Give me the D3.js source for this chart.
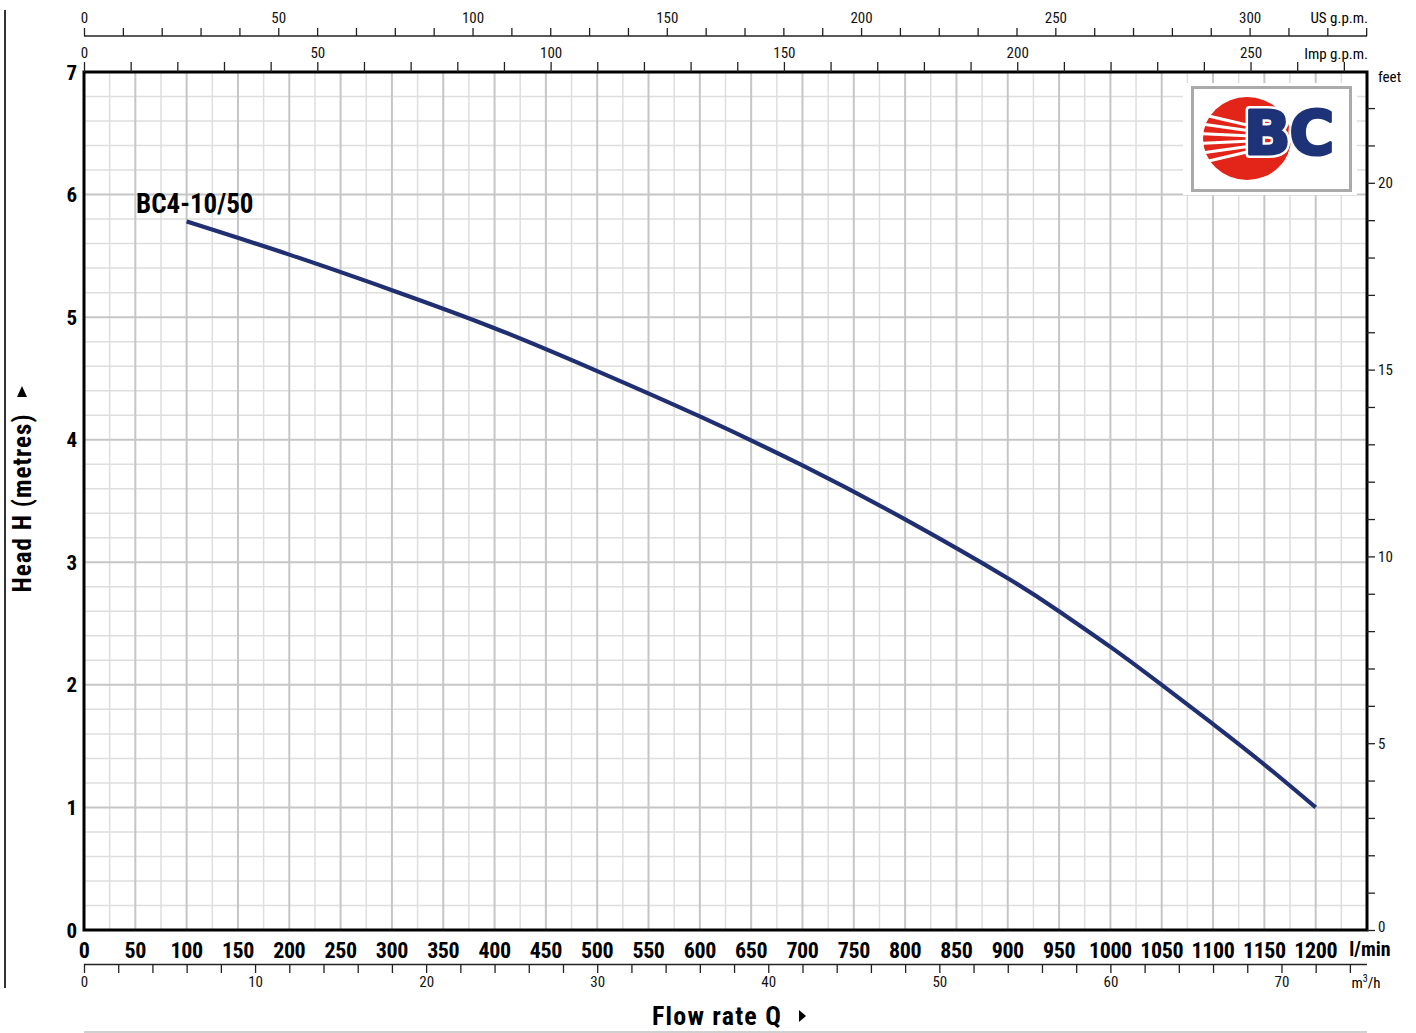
<!DOCTYPE html>
<html><head><meta charset="utf-8">
<script src="https://cdn.jsdelivr.net/npm/d3@7"></script>
<style>
html,body{margin:0;padding:0;background:#fff;}
svg{display:block;}
</style></head>
<body>
<svg id="chart" width="1416" height="1033"></svg>
<script>
// ---- data ----
const flowLpm = [100, 200, 300, 400, 500, 600, 700, 800, 900, 950, 1000, 1050, 1100, 1150, 1200];
const headM   = [5.78, 5.51, 5.22, 4.91, 4.56, 4.19, 3.79, 3.35, 2.87, 2.60, 2.31, 2.00, 1.68, 1.35, 1.00];
const curveName = "BC4-10/50";
const lpmTicks = [0,50,100,150,200,250,300,350,400,450,500,550,600,650,700,750,800,850,900,950,1000,1050,1100,1150,1200];
const headTicks = [0,1,2,3,4,5,6,7];
const feetLabels = [0,5,10,15,20];
const usLabels = [0,50,100,150,200,250,300];
const impLabels = [0,50,100,150,200,250];
const m3hLabels = [0,10,20,30,40,50,60,70];

const FONT = "'Liberation Sans Narrow','Roboto Condensed','DejaVu Sans Condensed','Open Sans',sans-serif";
const svg = d3.select("#chart");

const L = 84, R = 1367, T = 72, B = 930;
const x = d3.scaleLinear().domain([0, 1250]).range([L, R]);
const y = d3.scaleLinear().domain([0, 7]).range([B, T]);
const xUS = d3.scaleLinear().domain([0, 1250 / 3.785411784]).range([L, R]);
const xImp = d3.scaleLinear().domain([0, 1250 / 4.54609]).range([L, R]);
const xM3 = d3.scaleLinear().domain([0, 1250 * 0.06]).range([L, R]);
const yFt = d3.scaleLinear().domain([0, 7 / 0.3048]).range([B, T]);

// ---- grid ----
const g = svg.append("g");
const vMinor = d3.range(25, 1250, 25).filter(v => v % 50 !== 0);
const vMajor = d3.range(50, 1250, 50);
const hAll = d3.range(1, 35).map(i => +(i * 0.2).toFixed(1));
const hMinor = hAll.filter(v => Math.abs(v - Math.round(v)) > 1e-6);
const hMajor = [1,2,3,4,5,6];
g.selectAll(".vmin").data(vMinor).join("line")
  .attr("x1", d => x(d)).attr("x2", d => x(d)).attr("y1", T).attr("y2", B)
  .attr("stroke", "#dedede").attr("stroke-width", 1.5);
g.selectAll(".hmin").data(hMinor).join("line")
  .attr("x1", L).attr("x2", R).attr("y1", d => y(d)).attr("y2", d => y(d))
  .attr("stroke", "#dedede").attr("stroke-width", 1.5);
g.selectAll(".vmaj").data(vMajor).join("line")
  .attr("x1", d => x(d)).attr("x2", d => x(d)).attr("y1", T).attr("y2", B)
  .attr("stroke", "#c6c6c6").attr("stroke-width", 2);
g.selectAll(".hmaj").data(hMajor).join("line")
  .attr("x1", L).attr("x2", R).attr("y1", d => y(d)).attr("y2", d => y(d))
  .attr("stroke", "#c6c6c6").attr("stroke-width", 2);

// ---- logo ----
const logo = svg.append("g");
logo.append("rect").attr("x", 1183).attr("y", 83).attr("width", 174).attr("height", 112).attr("fill", "#fff");
logo.append("rect").attr("x", 1192.5).attr("y", 87.5).attr("width", 158).attr("height", 103)
  .attr("fill", "#fff").attr("stroke", "#aaaaaa").attr("stroke-width", 3);
logo.append("ellipse").attr("cx", 1247).attr("cy", 138.5).attr("rx", 44).attr("ry", 41.5).attr("fill", "#e32519");
[-2.5,-1.5,-0.5,0.5,1.5,2.5].forEach(k => {
  logo.append("line").attr("x1", 1198).attr("y1", 138.5 + k * 10).attr("x2", 1246).attr("y2", 138.5 + k * 5.5)
    .attr("stroke", "#fff").attr("stroke-width", 3);
});
const bcAttrs = t => t.attr("x", 1244).attr("y", 154)
  .attr("font-family", "'DejaVu Sans',sans-serif").attr("font-weight", "bold").attr("font-size", 61)
  .attr("letter-spacing", -1).text("BC");
logo.append("text").call(bcAttrs).attr("fill", "#fff").attr("stroke", "#fff").attr("stroke-width", 8).attr("stroke-linejoin", "round");
logo.append("text").call(bcAttrs).attr("fill", "#1e3377").attr("stroke", "#1e3377").attr("stroke-width", 3).attr("stroke-linejoin", "round");

// ---- curve ----
const line = d3.line().x((d, i) => x(flowLpm[i])).y(d => y(d)).curve(d3.curveNatural);
svg.append("path").datum(headM).attr("d", line)
  .attr("fill", "none").attr("stroke", "#1f2f72").attr("stroke-width", 4.2).attr("stroke-linecap", "butt");
svg.append("text").attr("x", 136).attr("y", 213)
  .attr("font-family", FONT).attr("font-weight", "bold").attr("font-size", 27).attr("fill", "#000")
  .text(curveName);

// ---- frame ----
svg.append("rect").attr("x", L).attr("y", T).attr("width", R - L).attr("height", B - T)
  .attr("fill", "none").attr("stroke", "#000").attr("stroke-width", 3);

// ---- left Y labels ----
svg.append("g").selectAll("text").data(headTicks).join("text")
  .attr("x", 77).attr("y", d => y(d) + 7.5).attr("text-anchor", "end")
  .attr("font-family", FONT).attr("font-weight", "bold").attr("font-size", 21).text(d => d);

// ---- bottom l/min labels ----
svg.append("g").selectAll("text").data(lpmTicks).join("text")
  .attr("x", d => x(d)).attr("y", 958).attr("text-anchor", "middle")
  .attr("font-family", FONT).attr("font-weight", "bold").attr("font-size", 22).attr("letter-spacing", -0.4).text(d => d);
svg.append("text").attr("x", 1370).attr("y", 956).attr("text-anchor", "middle")
  .attr("font-family", FONT).attr("font-weight", "bold").attr("font-size", 20).text("l/min");

// ---- m3/h axis ----
const axM3 = d3.axisBottom(xM3).tickValues(d3.range(0, 75, 2)).tickSize(9).tickSizeOuter(0)
  .tickFormat(d => m3hLabels.includes(d) ? d : "");
const gM3 = svg.append("g").attr("transform", "translate(0,964)").call(axM3);
gM3.select(".domain").attr("d", `M${L},0.5H${R}`).attr("stroke", "#222").attr("stroke-width", 1.5);
gM3.selectAll(".tick line").attr("stroke", "#222").attr("stroke-width", 1.3);
gM3.selectAll(".tick text").attr("y", 12).attr("font-family", FONT).attr("font-size", 15).attr("fill", "#111");
svg.append("text").attr("x", 1366).attr("y", 988).attr("text-anchor", "middle")
  .attr("font-family", FONT).attr("font-size", 15).html("m<tspan dy='-6' font-size='10'>3</tspan><tspan dy='6'>/h</tspan>");

// ---- top US gpm axis ----
const axUS = d3.axisTop(xUS).tickValues(d3.range(0, 331, 10)).tickSize(8).tickSizeOuter(0)
  .tickFormat(d => usLabels.includes(d) ? d : "");
const gUS = svg.append("g").attr("transform", "translate(0,36)").call(axUS);
gUS.select(".domain").attr("d", `M${L},0H${R}`).attr("stroke", "#222").attr("stroke-width", 1.5);
gUS.selectAll(".tick line").attr("stroke", "#222").attr("stroke-width", 1.3);
gUS.selectAll(".tick text").attr("y", -13).attr("font-family", FONT).attr("font-size", 15).attr("fill", "#111");
svg.append("text").attr("x", 1368).attr("y", 23).attr("text-anchor", "end")
  .attr("font-family", FONT).attr("font-size", 15).text("US g.p.m.");

// ---- top Imp gpm axis ----
const axImp = d3.axisTop(xImp).tickValues(d3.range(0, 271, 10)).tickSize(10).tickSizeOuter(0)
  .tickFormat(d => impLabels.includes(d) ? d : "");
const gImp = svg.append("g").attr("transform", "translate(0,72)").call(axImp);
gImp.select(".domain").remove();
gImp.selectAll(".tick line").attr("stroke", "#222").attr("stroke-width", 1.3);
gImp.selectAll(".tick text").attr("y", -14).attr("font-family", FONT).attr("font-size", 15).attr("fill", "#111");
svg.append("text").attr("x", 1368).attr("y", 59).attr("text-anchor", "end")
  .attr("font-family", FONT).attr("font-size", 15).text("Imp g.p.m.");

// ---- right feet axis ----
const axFt = d3.axisRight(yFt).tickValues(d3.range(0, 23, 1)).tickSize(8).tickSizeOuter(0)
  .tickFormat(d => feetLabels.includes(d) ? d : "");
const gFt = svg.append("g").attr("transform", `translate(${R},0)`).call(axFt);
gFt.select(".domain").remove();
gFt.selectAll(".tick line").attr("stroke", "#222").attr("stroke-width", 1.3);
gFt.selectAll(".tick text").attr("x", 11).attr("font-family", FONT).attr("font-size", 15).attr("fill", "#111");
gFt.selectAll(".tick").filter(d => d === 0).select("text").attr("dy", "0.1em");
svg.append("text").attr("x", 1378).attr("y", 82)
  .attr("font-family", FONT).attr("font-size", 15).text("feet");

// ---- titles ----
svg.append("text").attr("transform", "translate(31,503) rotate(-90)").attr("text-anchor", "middle")
  .attr("font-family", FONT).attr("font-weight", "bold").attr("font-size", 25).attr("letter-spacing", 1)
  .text("Head H (metres)");
svg.append("path").attr("d", "M17,397 L27,397 L22,386 Z").attr("fill", "#000");
svg.append("text").attr("x", 717).attr("y", 1025).attr("text-anchor", "middle")
  .attr("font-family", FONT).attr("font-weight", "bold").attr("font-size", 26).attr("letter-spacing", 1.2)
  .text("Flow rate Q");
svg.append("path").attr("d", "M799,1010 L799,1022 L806,1016 Z").attr("fill", "#000");

// ---- decorative lines ----
svg.append("line").attr("x1", 5).attr("x2", 5).attr("y1", 10).attr("y2", 988).attr("stroke", "#333").attr("stroke-width", 2);
svg.append("line").attr("x1", L).attr("x2", R).attr("y1", 1032).attr("y2", 1032).attr("stroke", "#c0c0c0").attr("stroke-width", 1.5);
</script>
</body></html>
